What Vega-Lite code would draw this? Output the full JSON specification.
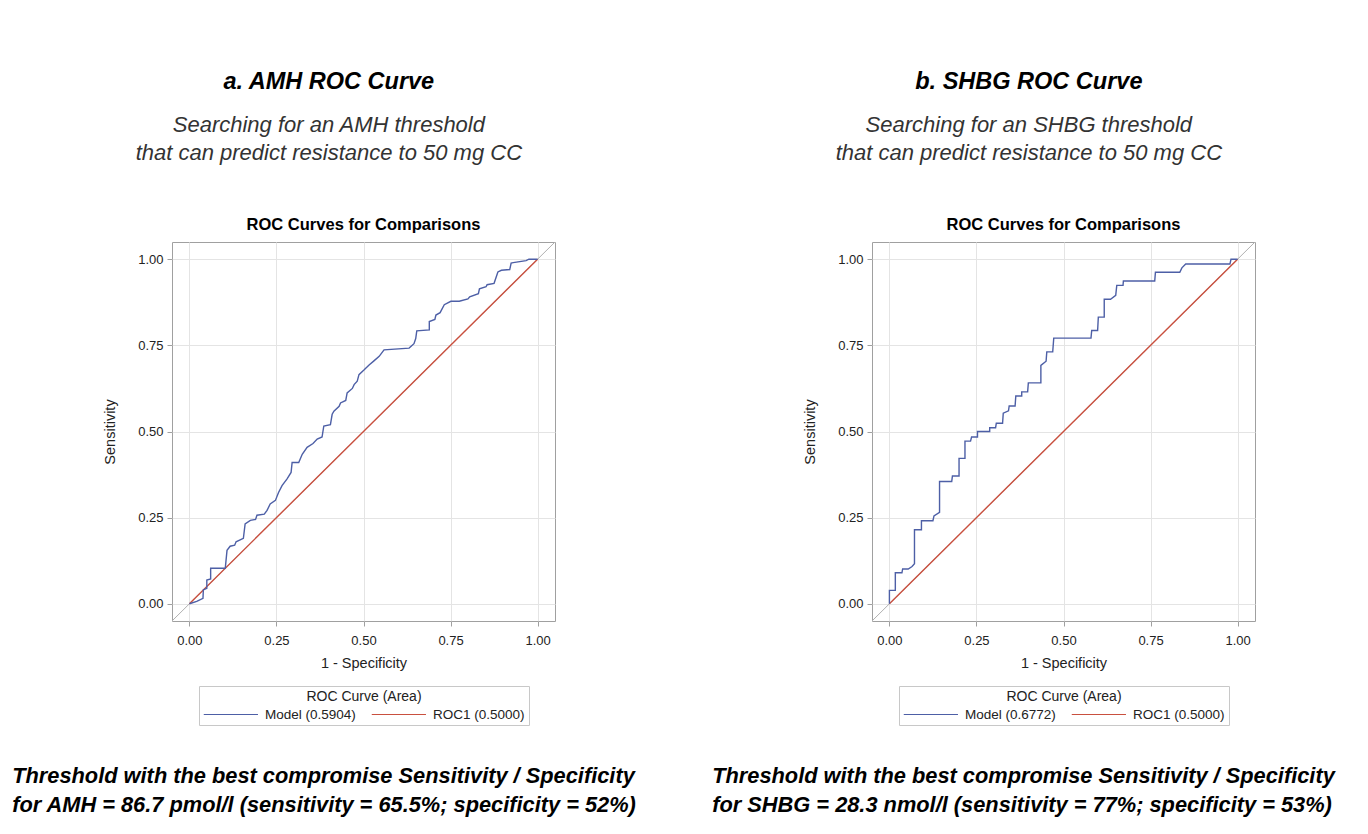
{
  "$schema": "https://vega.github.io/schema/vega-lite/v6.json",
  "background": "white",
  "padding": {"left": 12, "top": 69, "right": 8, "bottom": 8},
  "config": {
    "font": "Liberation Sans",
    "view": {"stroke": "#a0a0a0", "strokeWidth": 1},
    "axis": {
      "domain": false,
      "grid": true,
      "gridColor": "#e4e4e4",
      "tickColor": "#a0a0a0",
      "tickSize": 5,
      "labelFont": "Liberation Sans",
      "labelFontSize": 13,
      "labelColor": "#222222",
      "titleFont": "Liberation Sans",
      "titleFontSize": 14.5,
      "titleFontWeight": "normal",
      "titleColor": "#222222"
    },
    "legend": {
      "orient": "bottom",
      "direction": "horizontal",
      "layout": {"bottom": {"anchor": "middle"}},
      "titleAnchor": "middle",
      "titleOrient": "top",
      "titleFontSize": 14,
      "titleFontWeight": "normal",
      "titleColor": "#222222",
      "titlePadding": 2,
      "labelFontSize": 13.5,
      "labelColor": "#222222",
      "labelLimit": 300,
      "symbolType": "M-1,0H6",
      "symbolSize": 240,
      "symbolStrokeWidth": 1.2,
      "labelOffset": 45,
      "columnPadding": 13,
      "strokeColor": "#c8c8c8",
      "padding": 4,
      "offset": 16
    },
    "title": {"font": "Liberation Sans", "color": "black"}
  },
  "datasets": {
    "amh": [
      {"curve": "ROC1 (0.5000)", "fpr": 0, "tpr": 0},
      {"curve": "ROC1 (0.5000)", "fpr": 1, "tpr": 1},
      {"curve": "Model (0.5904)", "fpr": 0, "tpr": 0},
      {"curve": "Model (0.5904)", "fpr": 0.021, "tpr": 0.007},
      {"curve": "Model (0.5904)", "fpr": 0.039, "tpr": 0.016},
      {"curve": "Model (0.5904)", "fpr": 0.04, "tpr": 0.04},
      {"curve": "Model (0.5904)", "fpr": 0.05, "tpr": 0.045},
      {"curve": "Model (0.5904)", "fpr": 0.05, "tpr": 0.069},
      {"curve": "Model (0.5904)", "fpr": 0.061, "tpr": 0.072},
      {"curve": "Model (0.5904)", "fpr": 0.061, "tpr": 0.103},
      {"curve": "Model (0.5904)", "fpr": 0.103, "tpr": 0.103},
      {"curve": "Model (0.5904)", "fpr": 0.108, "tpr": 0.155},
      {"curve": "Model (0.5904)", "fpr": 0.117, "tpr": 0.167},
      {"curve": "Model (0.5904)", "fpr": 0.13, "tpr": 0.17},
      {"curve": "Model (0.5904)", "fpr": 0.134, "tpr": 0.18},
      {"curve": "Model (0.5904)", "fpr": 0.155, "tpr": 0.19},
      {"curve": "Model (0.5904)", "fpr": 0.16, "tpr": 0.232},
      {"curve": "Model (0.5904)", "fpr": 0.175, "tpr": 0.242},
      {"curve": "Model (0.5904)", "fpr": 0.19, "tpr": 0.245},
      {"curve": "Model (0.5904)", "fpr": 0.194, "tpr": 0.257},
      {"curve": "Model (0.5904)", "fpr": 0.215, "tpr": 0.26},
      {"curve": "Model (0.5904)", "fpr": 0.223, "tpr": 0.271},
      {"curve": "Model (0.5904)", "fpr": 0.232, "tpr": 0.29},
      {"curve": "Model (0.5904)", "fpr": 0.247, "tpr": 0.3},
      {"curve": "Model (0.5904)", "fpr": 0.256, "tpr": 0.323},
      {"curve": "Model (0.5904)", "fpr": 0.266, "tpr": 0.343},
      {"curve": "Model (0.5904)", "fpr": 0.28, "tpr": 0.362},
      {"curve": "Model (0.5904)", "fpr": 0.292, "tpr": 0.381},
      {"curve": "Model (0.5904)", "fpr": 0.295, "tpr": 0.41},
      {"curve": "Model (0.5904)", "fpr": 0.314, "tpr": 0.41},
      {"curve": "Model (0.5904)", "fpr": 0.324, "tpr": 0.434},
      {"curve": "Model (0.5904)", "fpr": 0.338, "tpr": 0.454},
      {"curve": "Model (0.5904)", "fpr": 0.355, "tpr": 0.465},
      {"curve": "Model (0.5904)", "fpr": 0.367, "tpr": 0.478},
      {"curve": "Model (0.5904)", "fpr": 0.381, "tpr": 0.484},
      {"curve": "Model (0.5904)", "fpr": 0.386, "tpr": 0.516},
      {"curve": "Model (0.5904)", "fpr": 0.405, "tpr": 0.52},
      {"curve": "Model (0.5904)", "fpr": 0.41, "tpr": 0.55},
      {"curve": "Model (0.5904)", "fpr": 0.415, "tpr": 0.559},
      {"curve": "Model (0.5904)", "fpr": 0.43, "tpr": 0.573},
      {"curve": "Model (0.5904)", "fpr": 0.434, "tpr": 0.583},
      {"curve": "Model (0.5904)", "fpr": 0.449, "tpr": 0.59},
      {"curve": "Model (0.5904)", "fpr": 0.453, "tpr": 0.612},
      {"curve": "Model (0.5904)", "fpr": 0.468, "tpr": 0.625},
      {"curve": "Model (0.5904)", "fpr": 0.473, "tpr": 0.636},
      {"curve": "Model (0.5904)", "fpr": 0.482, "tpr": 0.646},
      {"curve": "Model (0.5904)", "fpr": 0.487, "tpr": 0.665},
      {"curve": "Model (0.5904)", "fpr": 0.502, "tpr": 0.679},
      {"curve": "Model (0.5904)", "fpr": 0.516, "tpr": 0.693},
      {"curve": "Model (0.5904)", "fpr": 0.53, "tpr": 0.705},
      {"curve": "Model (0.5904)", "fpr": 0.545, "tpr": 0.718},
      {"curve": "Model (0.5904)", "fpr": 0.559, "tpr": 0.737},
      {"curve": "Model (0.5904)", "fpr": 0.631, "tpr": 0.742},
      {"curve": "Model (0.5904)", "fpr": 0.645, "tpr": 0.755},
      {"curve": "Model (0.5904)", "fpr": 0.65, "tpr": 0.77},
      {"curve": "Model (0.5904)", "fpr": 0.653, "tpr": 0.792},
      {"curve": "Model (0.5904)", "fpr": 0.689, "tpr": 0.795},
      {"curve": "Model (0.5904)", "fpr": 0.689, "tpr": 0.819},
      {"curve": "Model (0.5904)", "fpr": 0.705, "tpr": 0.825},
      {"curve": "Model (0.5904)", "fpr": 0.708, "tpr": 0.838},
      {"curve": "Model (0.5904)", "fpr": 0.72, "tpr": 0.845},
      {"curve": "Model (0.5904)", "fpr": 0.732, "tpr": 0.868},
      {"curve": "Model (0.5904)", "fpr": 0.751, "tpr": 0.878},
      {"curve": "Model (0.5904)", "fpr": 0.775, "tpr": 0.878},
      {"curve": "Model (0.5904)", "fpr": 0.8, "tpr": 0.885},
      {"curve": "Model (0.5904)", "fpr": 0.805, "tpr": 0.891},
      {"curve": "Model (0.5904)", "fpr": 0.83, "tpr": 0.9},
      {"curve": "Model (0.5904)", "fpr": 0.833, "tpr": 0.914},
      {"curve": "Model (0.5904)", "fpr": 0.852, "tpr": 0.92},
      {"curve": "Model (0.5904)", "fpr": 0.855, "tpr": 0.926},
      {"curve": "Model (0.5904)", "fpr": 0.875, "tpr": 0.93},
      {"curve": "Model (0.5904)", "fpr": 0.886, "tpr": 0.963},
      {"curve": "Model (0.5904)", "fpr": 0.896, "tpr": 0.968},
      {"curve": "Model (0.5904)", "fpr": 0.92, "tpr": 0.97},
      {"curve": "Model (0.5904)", "fpr": 0.924, "tpr": 0.989},
      {"curve": "Model (0.5904)", "fpr": 0.93, "tpr": 0.99},
      {"curve": "Model (0.5904)", "fpr": 0.967, "tpr": 0.996},
      {"curve": "Model (0.5904)", "fpr": 0.975, "tpr": 1.0},
      {"curve": "Model (0.5904)", "fpr": 1.0, "tpr": 1.0}
    ],
    "shbg": [
      {"curve": "ROC1 (0.5000)", "fpr": 0, "tpr": 0},
      {"curve": "ROC1 (0.5000)", "fpr": 1, "tpr": 1},
      {"curve": "Model (0.6772)", "fpr": 0, "tpr": 0},
      {"curve": "Model (0.6772)", "fpr": 0, "tpr": 0.039},
      {"curve": "Model (0.6772)", "fpr": 0.017, "tpr": 0.039},
      {"curve": "Model (0.6772)", "fpr": 0.017, "tpr": 0.09},
      {"curve": "Model (0.6772)", "fpr": 0.036, "tpr": 0.09},
      {"curve": "Model (0.6772)", "fpr": 0.038, "tpr": 0.101},
      {"curve": "Model (0.6772)", "fpr": 0.054, "tpr": 0.101},
      {"curve": "Model (0.6772)", "fpr": 0.065, "tpr": 0.108},
      {"curve": "Model (0.6772)", "fpr": 0.072, "tpr": 0.116},
      {"curve": "Model (0.6772)", "fpr": 0.072, "tpr": 0.215},
      {"curve": "Model (0.6772)", "fpr": 0.092, "tpr": 0.215},
      {"curve": "Model (0.6772)", "fpr": 0.092, "tpr": 0.241},
      {"curve": "Model (0.6772)", "fpr": 0.125, "tpr": 0.241},
      {"curve": "Model (0.6772)", "fpr": 0.128, "tpr": 0.255},
      {"curve": "Model (0.6772)", "fpr": 0.144, "tpr": 0.265},
      {"curve": "Model (0.6772)", "fpr": 0.144, "tpr": 0.355},
      {"curve": "Model (0.6772)", "fpr": 0.179, "tpr": 0.355},
      {"curve": "Model (0.6772)", "fpr": 0.181, "tpr": 0.371},
      {"curve": "Model (0.6772)", "fpr": 0.2, "tpr": 0.371},
      {"curve": "Model (0.6772)", "fpr": 0.2, "tpr": 0.422},
      {"curve": "Model (0.6772)", "fpr": 0.217, "tpr": 0.422},
      {"curve": "Model (0.6772)", "fpr": 0.217, "tpr": 0.472},
      {"curve": "Model (0.6772)", "fpr": 0.233, "tpr": 0.472},
      {"curve": "Model (0.6772)", "fpr": 0.236, "tpr": 0.484},
      {"curve": "Model (0.6772)", "fpr": 0.253, "tpr": 0.484},
      {"curve": "Model (0.6772)", "fpr": 0.253, "tpr": 0.5},
      {"curve": "Model (0.6772)", "fpr": 0.288, "tpr": 0.5},
      {"curve": "Model (0.6772)", "fpr": 0.288, "tpr": 0.511},
      {"curve": "Model (0.6772)", "fpr": 0.305, "tpr": 0.511},
      {"curve": "Model (0.6772)", "fpr": 0.307, "tpr": 0.524},
      {"curve": "Model (0.6772)", "fpr": 0.325, "tpr": 0.524},
      {"curve": "Model (0.6772)", "fpr": 0.327, "tpr": 0.553},
      {"curve": "Model (0.6772)", "fpr": 0.342, "tpr": 0.56},
      {"curve": "Model (0.6772)", "fpr": 0.344, "tpr": 0.574},
      {"curve": "Model (0.6772)", "fpr": 0.361, "tpr": 0.574},
      {"curve": "Model (0.6772)", "fpr": 0.363, "tpr": 0.603},
      {"curve": "Model (0.6772)", "fpr": 0.38, "tpr": 0.603},
      {"curve": "Model (0.6772)", "fpr": 0.38, "tpr": 0.615},
      {"curve": "Model (0.6772)", "fpr": 0.397, "tpr": 0.615},
      {"curve": "Model (0.6772)", "fpr": 0.399, "tpr": 0.641},
      {"curve": "Model (0.6772)", "fpr": 0.435, "tpr": 0.641},
      {"curve": "Model (0.6772)", "fpr": 0.435, "tpr": 0.692},
      {"curve": "Model (0.6772)", "fpr": 0.45, "tpr": 0.704},
      {"curve": "Model (0.6772)", "fpr": 0.452, "tpr": 0.731},
      {"curve": "Model (0.6772)", "fpr": 0.469, "tpr": 0.731},
      {"curve": "Model (0.6772)", "fpr": 0.472, "tpr": 0.771},
      {"curve": "Model (0.6772)", "fpr": 0.579, "tpr": 0.771},
      {"curve": "Model (0.6772)", "fpr": 0.581, "tpr": 0.793},
      {"curve": "Model (0.6772)", "fpr": 0.598, "tpr": 0.793},
      {"curve": "Model (0.6772)", "fpr": 0.6, "tpr": 0.832},
      {"curve": "Model (0.6772)", "fpr": 0.617, "tpr": 0.832},
      {"curve": "Model (0.6772)", "fpr": 0.617, "tpr": 0.884},
      {"curve": "Model (0.6772)", "fpr": 0.635, "tpr": 0.884},
      {"curve": "Model (0.6772)", "fpr": 0.65, "tpr": 0.895},
      {"curve": "Model (0.6772)", "fpr": 0.653, "tpr": 0.924},
      {"curve": "Model (0.6772)", "fpr": 0.671, "tpr": 0.924},
      {"curve": "Model (0.6772)", "fpr": 0.672, "tpr": 0.937},
      {"curve": "Model (0.6772)", "fpr": 0.762, "tpr": 0.937},
      {"curve": "Model (0.6772)", "fpr": 0.764, "tpr": 0.962},
      {"curve": "Model (0.6772)", "fpr": 0.834, "tpr": 0.962},
      {"curve": "Model (0.6772)", "fpr": 0.84, "tpr": 0.975},
      {"curve": "Model (0.6772)", "fpr": 0.851, "tpr": 0.986},
      {"curve": "Model (0.6772)", "fpr": 0.978, "tpr": 0.986},
      {"curve": "Model (0.6772)", "fpr": 0.981, "tpr": 1.0},
      {"curve": "Model (0.6772)", "fpr": 1.0, "tpr": 1.0}
    ],
    "diag": [
      {"fpr": -0.05, "tpr": -0.05},
      {"fpr": 1.05, "tpr": 1.05}
    ]
  },
  "resolve": {"scale": {"color": "independent", "x": "independent", "y": "independent"}, "legend": {"color": "independent"}},
  "spacing": 75,
  "hconcat": [
    {
      "title": {
        "text": ["Threshold with the best compromise Sensitivity / Specificity", "for AMH = 86.7 pmol/l (sensitivity = 65.5%; specificity = 52%)"],
        "orient": "bottom", "anchor": "start", "dx": -90, "offset": 40,
        "fontSize": 21.8, "fontStyle": "italic", "fontWeight": "bold", "color": "black", "lineHeight": 29
      },
      "resolve": {"scale": {"color": "independent"}, "legend": {"color": "independent"}},
      "vconcat": [
        {
          "title": {
            "text": "a. AMH ROC Curve",
            "subtitle": ["Searching for an AMH threshold", "that can predict resistance to 50 mg CC"],
            "anchor": "middle", "fontSize": 23.5, "fontStyle": "italic", "fontWeight": "bold", "color": "black",
            "subtitleFontSize": 22, "subtitleFontStyle": "italic", "subtitleColor": "#333333",
            "subtitleLineHeight": 28, "subtitlePadding": 22, "offset": 52, "subtitleFont": "Liberation Sans"
          },
          "resolve": {"scale": {"color": "independent"}, "legend": {"color": "independent"}},
          "vconcat": [
            {
              "width": 383, "height": 379,
              "title": {"text": "ROC Curves for Comparisons", "fontSize": 16.5, "fontWeight": "bold", "color": "black", "offset": 9, "anchor": "middle"},
              "layer": [
                {
                  "data": {"name": "diag"},
                  "mark": {"type": "line", "color": "#b0b0b0", "strokeWidth": 1, "clip": true},
                  "encoding": {
                    "x": {"field": "fpr", "type": "quantitative", "scale": {"domain": [-0.05, 1.05], "nice": false, "zero": false},
                          "axis": {"values": [0, 0.25, 0.5, 0.75, 1], "format": ".2f", "title": "1 - Specificity", "labelPadding": 8, "titlePadding": 9}},
                    "y": {"field": "tpr", "type": "quantitative", "scale": {"domain": [-0.05, 1.05], "nice": false, "zero": false},
                          "axis": {"values": [0, 0.25, 0.5, 0.75, 1], "format": ".2f", "title": "Sensitivity", "labelPadding": 4, "titlePadding": 20}}
                  }
                },
                {
                  "data": {"name": "amh"},
                  "mark": {"type": "line", "strokeWidth": 1.4, "clip": true},
                  "encoding": {
                    "x": {"field": "fpr", "type": "quantitative"},
                    "y": {"field": "tpr", "type": "quantitative"},
                    "color": {"field": "curve", "type": "nominal",
                              "scale": {"domain": ["Model (0.5904)", "ROC1 (0.5000)"], "range": ["#4d5fa6", "#c9503f"]},
                              "legend": {"title": "ROC Curve (Area)"}},
                    "order": {"value": null}
                  }
                }
              ]
            }
          ]
        }
      ]
    },
    {
      "title": {
        "text": ["Threshold with the best compromise Sensitivity / Specificity", "for SHBG = 28.3 nmol/l (sensitivity = 77%; specificity = 53%)"],
        "orient": "bottom", "anchor": "start", "dx": -90, "offset": 40,
        "fontSize": 21.8, "fontStyle": "italic", "fontWeight": "bold", "color": "black", "lineHeight": 29
      },
      "resolve": {"scale": {"color": "independent"}, "legend": {"color": "independent"}},
      "vconcat": [
        {
          "title": {
            "text": "b. SHBG ROC Curve",
            "subtitle": ["Searching for an SHBG threshold", "that can predict resistance to 50 mg CC"],
            "anchor": "middle", "fontSize": 23.5, "fontStyle": "italic", "fontWeight": "bold", "color": "black",
            "subtitleFontSize": 22, "subtitleFontStyle": "italic", "subtitleColor": "#333333",
            "subtitleLineHeight": 28, "subtitlePadding": 22, "offset": 52, "subtitleFont": "Liberation Sans"
          },
          "resolve": {"scale": {"color": "independent"}, "legend": {"color": "independent"}},
          "vconcat": [
            {
              "width": 383, "height": 379,
              "title": {"text": "ROC Curves for Comparisons", "fontSize": 16.5, "fontWeight": "bold", "color": "black", "offset": 9, "anchor": "middle"},
              "layer": [
                {
                  "data": {"name": "diag"},
                  "mark": {"type": "line", "color": "#b0b0b0", "strokeWidth": 1, "clip": true},
                  "encoding": {
                    "x": {"field": "fpr", "type": "quantitative", "scale": {"domain": [-0.05, 1.05], "nice": false, "zero": false},
                          "axis": {"values": [0, 0.25, 0.5, 0.75, 1], "format": ".2f", "title": "1 - Specificity", "labelPadding": 8, "titlePadding": 9}},
                    "y": {"field": "tpr", "type": "quantitative", "scale": {"domain": [-0.05, 1.05], "nice": false, "zero": false},
                          "axis": {"values": [0, 0.25, 0.5, 0.75, 1], "format": ".2f", "title": "Sensitivity", "labelPadding": 4, "titlePadding": 20}}
                  }
                },
                {
                  "data": {"name": "shbg"},
                  "mark": {"type": "line", "strokeWidth": 1.4, "clip": true},
                  "encoding": {
                    "x": {"field": "fpr", "type": "quantitative"},
                    "y": {"field": "tpr", "type": "quantitative"},
                    "color": {"field": "curve", "type": "nominal",
                              "scale": {"domain": ["Model (0.6772)", "ROC1 (0.5000)"], "range": ["#4d5fa6", "#c9503f"]},
                              "legend": {"title": "ROC Curve (Area)"}},
                    "order": {"value": null}
                  }
                }
              ]
            }
          ]
        }
      ]
    }
  ]
}
